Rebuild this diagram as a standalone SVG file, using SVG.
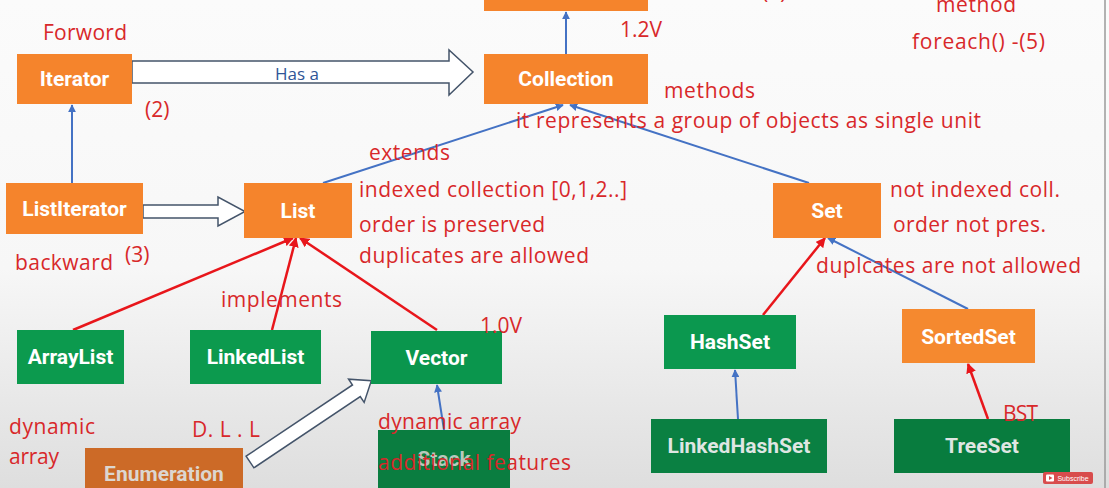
<svg xmlns="http://www.w3.org/2000/svg" width="1109" height="488" viewBox="0 0 1109 488">
<defs>
<linearGradient id="bg" x1="0" y1="0" x2="0" y2="1">
<stop offset="0" stop-color="#fbfbfb"/>
<stop offset="0.55" stop-color="#f7f7f7"/>
<stop offset="1" stop-color="#dedede"/>
</linearGradient>
<marker id="ab" viewBox="0 0 10 10" refX="9" refY="5" markerWidth="4" markerHeight="4" orient="auto" markerUnits="strokeWidth">
<path d="M0,0 L10,5 L0,10 z" fill="#4472c4"/>
</marker>
<marker id="ar" viewBox="0 0 10 10" refX="9" refY="5" markerWidth="4" markerHeight="4" orient="auto" markerUnits="strokeWidth">
<path d="M0,0 L10,5 L0,10 z" fill="#e8161b"/>
</marker>
</defs>
<style>
.lbl{font-family:Roboto,"Liberation Sans",sans-serif;font-weight:bold;font-size:21px;fill:#ffffff;text-anchor:middle}
.note{font-family:"Open Sans","Noto Sans","Liberation Sans",sans-serif;font-size:21px;fill:#d8282a}
.blue{stroke:#4472c4;stroke-width:2;fill:none}
.red{stroke:#e8161b;stroke-width:2.5;fill:none}
.hollow{fill:#ffffff;stroke:#44546a;stroke-width:1.5;stroke-linejoin:miter}
.org{fill:#f5842c}
.grn{fill:#0c9a4e}
</style>
<rect width="1109" height="488" fill="url(#bg)"/>
<line x1="1105" y1="0" x2="1105" y2="488" stroke="#9a9a9a" stroke-width="1.5"/>

<g id="connectors">
<line class="blue" x1="566" y1="54" x2="566" y2="12" marker-end="url(#ab)"/>
<line class="blue" x1="72" y1="183" x2="72" y2="105" marker-end="url(#ab)"/>
<line class="blue" x1="323" y1="183" x2="563" y2="105" marker-end="url(#ab)"/>
<line class="blue" x1="809" y1="183" x2="570" y2="105" marker-end="url(#ab)"/>
<line class="red" x1="73" y1="330" x2="293" y2="238" marker-end="url(#ar)"/>
<line class="red" x1="272" y1="330" x2="296" y2="238" marker-end="url(#ar)"/>
<line class="red" x1="437" y1="330" x2="300" y2="238" marker-end="url(#ar)"/>
<line class="blue" x1="444" y1="430" x2="437" y2="385" marker-end="url(#ab)"/>
<line class="red" x1="763" y1="315" x2="825" y2="238" marker-end="url(#ar)"/>
<line class="blue" x1="968" y1="309" x2="828" y2="238" marker-end="url(#ab)"/>
<line class="blue" x1="738" y1="419" x2="735" y2="370" marker-end="url(#ab)"/>
<line class="red" x1="988" y1="419" x2="968" y2="364" marker-end="url(#ar)"/>
<polygon class="hollow" points="132,61 449,61 449,50 473,72 449,95 449,83 132,83"/>
<polygon class="hollow" points="143,205 218,205 218,197 245,211.5 218,226 218,218 143,218"/>
<polygon class="hollow" transform="translate(250,462) rotate(-33.8)" points="0,-7 128,-7 128,-14 146,0 128,14 128,7 0,7"/>
<text x="275" y="80" font-family="'Open Sans','Noto Sans','Liberation Sans',sans-serif" font-size="17" fill="#2f5597">Has a</text>
</g>

<g id="top-box"><rect x="484" y="-10" width="164" height="21" class="org"/></g>
<g id="Iterator"><rect x="17" y="54" width="115" height="50" class="org"/><text class="lbl" x="74.5" y="86">Iterator</text></g>
<g id="Collection"><rect x="484" y="54" width="164" height="50" class="org"/><text class="lbl" x="566" y="86">Collection</text></g>
<g id="ListIterator"><rect x="6" y="183" width="137" height="51" class="org"/><text class="lbl" x="74.5" y="216">ListIterator</text></g>
<g id="List"><rect x="244" y="183" width="108" height="55" class="org"/><text class="lbl" x="298" y="218">List</text></g>
<g id="Set"><rect x="773" y="183" width="108" height="55" class="org"/><text class="lbl" x="827" y="218">Set</text></g>
<g id="ArrayList"><rect x="17" y="330" width="107" height="54" class="grn"/><text class="lbl" x="70.5" y="364">ArrayList</text></g>
<g id="LinkedList"><rect x="190" y="330" width="131" height="54" class="grn"/><text class="lbl" x="255.5" y="364">LinkedList</text></g>
<g id="Vector"><rect x="371" y="331" width="131" height="53" fill="#0a964d"/><text class="lbl" x="436.5" y="365">Vector</text></g>
<g id="HashSet"><rect x="664" y="315" width="132" height="54" fill="#0b984f"/><text class="lbl" x="730" y="349">HashSet</text></g>
<g id="SortedSet"><rect x="902" y="309" width="133" height="54" fill="#f5892f"/><text class="lbl" x="968.5" y="344">SortedSet</text></g>
<g id="LinkedHashSet"><rect x="651" y="419" width="176" height="54" fill="#0a8042"/><text class="lbl" x="739" y="453" style="fill:#dfe6e2">LinkedHashSet</text></g>
<g id="TreeSet"><rect x="894" y="419" width="176" height="54" fill="#087c3e"/><text class="lbl" x="982" y="453" style="fill:#dfe6e2">TreeSet</text></g>
<g id="Stack"><rect x="378" y="430" width="132" height="62" fill="#0a7d40"/><text class="lbl" x="444" y="466" style="fill:#b8c9bd">Stack</text></g>
<g id="Enumeration"><rect x="85" y="448" width="158" height="45" fill="#cc6a27"/><text class="lbl" x="164" y="481" style="fill:#dcd6d0">Enumeration</text></g>

<g id="notes">
<text class="note" x="43" y="40" textLength="84">Forword</text>
<text class="note" x="145" y="117">(2)</text>
<text class="note" x="762" y="-1">(4)</text>
<text class="note" x="620" y="37">1.2V</text>
<text class="note" x="936" y="12" textLength="80">method</text>
<text class="note" x="912" y="49" textLength="133">foreach() -(5)</text>
<text class="note" x="664" y="98" textLength="91">methods</text>
<text class="note" x="516" y="128" textLength="465">it represents a group of objects as single unit</text>
<text class="note" x="369" y="160" textLength="81">extends</text>
<text class="note" x="359" y="197" textLength="268">indexed collection [0,1,2..]</text>
<text class="note" x="359" y="232" textLength="186">order is preserved</text>
<text class="note" x="359" y="263" textLength="230">duplicates are allowed</text>
<text class="note" x="15" y="270" textLength="98">backward</text>
<text class="note" x="125" y="262" font-size="17">(3)</text>
<text class="note" x="890" y="197" textLength="170">not indexed coll.</text>
<text class="note" x="893" y="232" textLength="153">order not pres.</text>
<text class="note" x="816" y="273" textLength="265">duplcates are not allowed</text>
<text class="note" x="221" y="307" textLength="121">implements</text>
<text class="note" x="480" y="333" textLength="42">1.0V</text>
<text class="note" x="9" y="434" textLength="86">dynamic</text>
<text class="note" x="9" y="464" textLength="50">array</text>
<text class="note" x="192" y="437" textLength="68">D. L . L</text>
<text class="note" x="378" y="429" textLength="143">dynamic array</text>
<text class="note" x="378" y="470" textLength="193">additional features</text>
<text class="note" x="1003" y="421" textLength="35">BST</text>
</g>

<g id="subscribe">
<rect x="1043" y="472" width="50" height="12" rx="2" fill="#d84c4c"/>
<rect x="1046" y="474.5" width="8" height="7" rx="1" fill="#ffffff"/>
<path d="M1049,476 L1052.5,478 L1049,480 z" fill="#d84c4c"/>
<text x="1073" y="481" font-family="'Liberation Sans',sans-serif" font-size="7" fill="#ffffff" text-anchor="middle">Subscribe</text>
</g>
</svg>
